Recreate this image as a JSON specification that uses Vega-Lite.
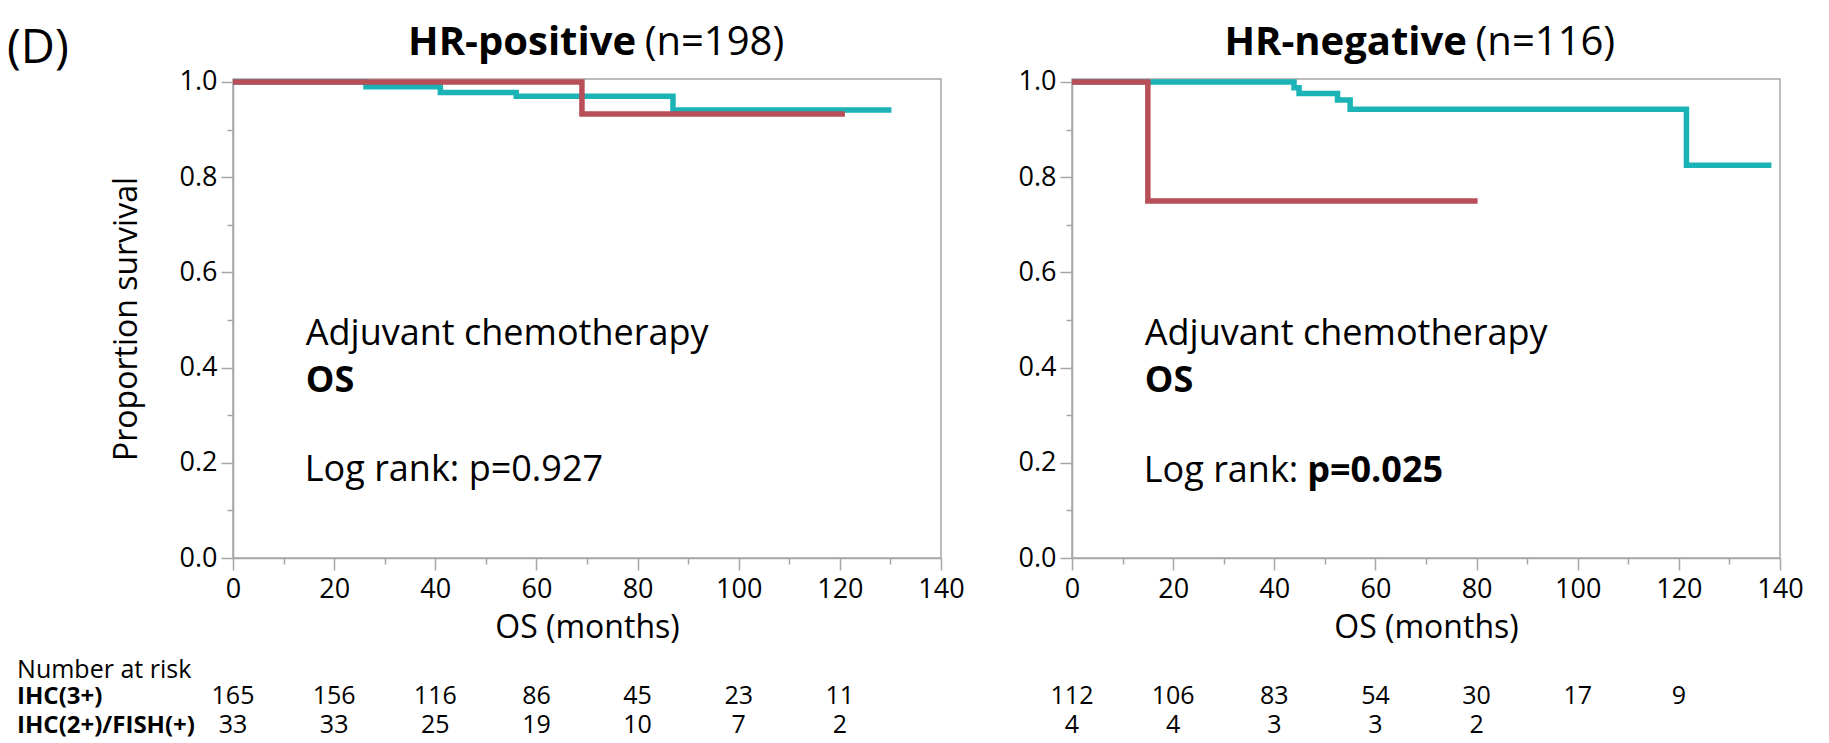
{
  "$schema": "https://vega.github.io/schema/vega-lite/v6.json",
  "padding": {"left": 6, "top": 22, "right": 5, "bottom": 0},
  "background": "white",
  "config": {
    "font": "Open Sans",
    "view": {"stroke": "#a6a6a6", "strokeWidth": 1.5},
    "axis": {
      "domainColor": "#a6a6a6", "domainWidth": 1.5,
      "tickColor": "#a6a6a6", "tickWidth": 1.5,
      "grid": false,
      "labelFont": "Open Sans", "labelFontSize": 27, "labelColor": "#000",
      "titleFont": "Open Sans", "titleFontSize": 32, "titleFontWeight": "normal", "titleColor": "#000"
    },
    "text": {"font": "Open Sans", "color": "#000"}
  },
  "datasets": {
    "one": [{}],
    "curves": [
      {"panel": "HR-positive", "group": "IHC(3+)", "month": 0, "surv": 1.0},
      {"panel": "HR-positive", "group": "IHC(3+)", "month": 26.3, "surv": 0.99},
      {"panel": "HR-positive", "group": "IHC(3+)", "month": 41, "surv": 0.978},
      {"panel": "HR-positive", "group": "IHC(3+)", "month": 56, "surv": 0.97},
      {"panel": "HR-positive", "group": "IHC(3+)", "month": 87, "surv": 0.941},
      {"panel": "HR-positive", "group": "IHC(3+)", "month": 130.2, "surv": 0.941},
      {"panel": "HR-positive", "group": "IHC(2+)/FISH(+)", "month": 0, "surv": 1.0},
      {"panel": "HR-positive", "group": "IHC(2+)/FISH(+)", "month": 69, "surv": 0.933},
      {"panel": "HR-positive", "group": "IHC(2+)/FISH(+)", "month": 121, "surv": 0.933},
      {"panel": "HR-negative", "group": "IHC(3+)", "month": 0, "surv": 1.0},
      {"panel": "HR-negative", "group": "IHC(3+)", "month": 43.9, "surv": 0.988},
      {"panel": "HR-negative", "group": "IHC(3+)", "month": 44.9, "surv": 0.976},
      {"panel": "HR-negative", "group": "IHC(3+)", "month": 52.5, "surv": 0.962},
      {"panel": "HR-negative", "group": "IHC(3+)", "month": 55, "surv": 0.943},
      {"panel": "HR-negative", "group": "IHC(3+)", "month": 121.5, "surv": 0.825},
      {"panel": "HR-negative", "group": "IHC(3+)", "month": 138.3, "surv": 0.825},
      {"panel": "HR-negative", "group": "IHC(2+)/FISH(+)", "month": 0, "surv": 1.0},
      {"panel": "HR-negative", "group": "IHC(2+)/FISH(+)", "month": 15, "surv": 0.75},
      {"panel": "HR-negative", "group": "IHC(2+)/FISH(+)", "month": 80.2, "surv": 0.75}
    ],
    "risk": [
      {"panel": "HR-positive", "group": "IHC(3+)", "month": 0, "n": 165},
      {"panel": "HR-positive", "group": "IHC(3+)", "month": 20, "n": 156},
      {"panel": "HR-positive", "group": "IHC(3+)", "month": 40, "n": 116},
      {"panel": "HR-positive", "group": "IHC(3+)", "month": 60, "n": 86},
      {"panel": "HR-positive", "group": "IHC(3+)", "month": 80, "n": 45},
      {"panel": "HR-positive", "group": "IHC(3+)", "month": 100, "n": 23},
      {"panel": "HR-positive", "group": "IHC(3+)", "month": 120, "n": 11},
      {"panel": "HR-positive", "group": "IHC(2+)/FISH(+)", "month": 0, "n": 33},
      {"panel": "HR-positive", "group": "IHC(2+)/FISH(+)", "month": 20, "n": 33},
      {"panel": "HR-positive", "group": "IHC(2+)/FISH(+)", "month": 40, "n": 25},
      {"panel": "HR-positive", "group": "IHC(2+)/FISH(+)", "month": 60, "n": 19},
      {"panel": "HR-positive", "group": "IHC(2+)/FISH(+)", "month": 80, "n": 10},
      {"panel": "HR-positive", "group": "IHC(2+)/FISH(+)", "month": 100, "n": 7},
      {"panel": "HR-positive", "group": "IHC(2+)/FISH(+)", "month": 120, "n": 2},
      {"panel": "HR-negative", "group": "IHC(3+)", "month": 0, "n": 112},
      {"panel": "HR-negative", "group": "IHC(3+)", "month": 20, "n": 106},
      {"panel": "HR-negative", "group": "IHC(3+)", "month": 40, "n": 83},
      {"panel": "HR-negative", "group": "IHC(3+)", "month": 60, "n": 54},
      {"panel": "HR-negative", "group": "IHC(3+)", "month": 80, "n": 30},
      {"panel": "HR-negative", "group": "IHC(3+)", "month": 100, "n": 17},
      {"panel": "HR-negative", "group": "IHC(3+)", "month": 120, "n": 9},
      {"panel": "HR-negative", "group": "IHC(2+)/FISH(+)", "month": 0, "n": 4},
      {"panel": "HR-negative", "group": "IHC(2+)/FISH(+)", "month": 20, "n": 4},
      {"panel": "HR-negative", "group": "IHC(2+)/FISH(+)", "month": 40, "n": 3},
      {"panel": "HR-negative", "group": "IHC(2+)/FISH(+)", "month": 60, "n": 3},
      {"panel": "HR-negative", "group": "IHC(2+)/FISH(+)", "month": 80, "n": 2}
    ]
  },
  "spacing": 52,
  "hconcat": [
    {
      "width": 708,
      "height": 479,
      "layer": [
        {
          "data": {"name": "curves"},
          "transform": [{"filter": "datum.panel === 'HR-positive' && datum.group === 'IHC(3+)'"}],
          "mark": {"type": "line", "interpolate": "step-after", "color": "#1bb3b5", "strokeWidth": 5.5},
          "encoding": {
            "x": {"field": "month", "type": "quantitative", "scale": {"domain": [0, 140], "nice": false},
              "axis": {"title": "OS (months)", "values": [0,10,20,30,40,50,60,70,80,90,100,110,120,130,140],
                "labelExpr": "datum.value % 20 === 0 ? datum.label : ''", "labelOverlap": false, "labelFlush": false,
                "tickSize": {"condition": {"test": "datum.value % 20 === 0", "value": 12}, "value": 6},
                "labelPadding": 6, "titlePadding": 10}},
            "y": {"field": "surv", "type": "quantitative", "scale": {"domain": [0, 1.0063], "nice": false},
              "axis": {"title": "Proportion survival", "values": [0,0.1,0.2,0.3,0.4,0.5,0.6,0.7,0.8,0.9,1.0], "format": ".1f",
                "labelExpr": "round(datum.value * 10) % 2 === 0 ? datum.label : ''", "labelOverlap": false, "labelFlush": false,
                "tickSize": {"condition": {"test": "round(datum.value * 10) % 2 === 0", "value": 12}, "value": 6},
                "labelPadding": 4, "titlePadding": 36}}
          }
        },
        {
          "data": {"name": "curves"},
          "transform": [{"filter": "datum.panel === 'HR-positive' && datum.group === 'IHC(2+)/FISH(+)'"}],
          "mark": {"type": "line", "interpolate": "step-after", "color": "#b84e57", "strokeWidth": 5.5},
          "encoding": {
            "x": {"field": "month", "type": "quantitative"},
            "y": {"field": "surv", "type": "quantitative"}
          }
        },
        {
          "data": {"name": "one"},
          "mark": {"type": "text", "align": "left", "baseline": "alphabetic", "fontSize": 47, "text": "(D)"},
          "encoding": {"x": {"datum": -44.7}, "y": {"datum": 1.04}}
        },
        {
          "data": {"name": "one"},
          "mark": {"type": "text", "align": "right", "baseline": "alphabetic", "fontSize": 40, "fontWeight": "bold", "text": "HR-positive"},
          "encoding": {"x": {"datum": 79.7}, "y": {"datum": 1.057}}
        },
        {
          "data": {"name": "one"},
          "mark": {"type": "text", "align": "left", "baseline": "alphabetic", "fontSize": 40, "text": "(n=198)"},
          "encoding": {"x": {"datum": 81.4}, "y": {"datum": 1.057}}
        },
        {
          "data": {"name": "one"},
          "mark": {"type": "text", "align": "left", "baseline": "alphabetic", "fontSize": 36, "text": "Adjuvant chemotherapy"},
          "encoding": {"x": {"datum": 14.4}, "y": {"datum": 0.447}}
        },
        {
          "data": {"name": "one"},
          "mark": {"type": "text", "align": "left", "baseline": "alphabetic", "fontSize": 36, "fontWeight": "bold", "text": "OS"},
          "encoding": {"x": {"datum": 14.4}, "y": {"datum": 0.349}}
        },
        {
          "data": {"name": "one"},
          "mark": {"type": "text", "align": "left", "baseline": "alphabetic", "fontSize": 36, "text": "Log rank: p=0.927"},
          "encoding": {"x": {"datum": 14.2}, "y": {"datum": 0.162}}
        },
        {
          "data": {"name": "one"},
          "mark": {"type": "text", "align": "left", "baseline": "alphabetic", "fontSize": 25, "text": "Number at risk"},
          "encoding": {"x": {"datum": -42.7}, "y": {"datum": -0.252}}
        },
        {
          "data": {"name": "one"},
          "mark": {"type": "text", "align": "left", "baseline": "alphabetic", "fontSize": 24, "fontWeight": "bold", "text": "IHC(3+)"},
          "encoding": {"x": {"datum": -42.7}, "y": {"datum": -0.307}}
        },
        {
          "data": {"name": "one"},
          "mark": {"type": "text", "align": "left", "baseline": "alphabetic", "fontSize": 24, "fontWeight": "bold", "text": "IHC(2+)/FISH(+)"},
          "encoding": {"x": {"datum": -42.7}, "y": {"datum": -0.368}}
        },
        {
          "data": {"name": "risk"},
          "transform": [{"filter": "datum.panel === 'HR-positive' && datum.group === 'IHC(3+)'"}],
          "mark": {"type": "text", "baseline": "alphabetic", "fontSize": 25},
          "encoding": {"x": {"field": "month", "type": "quantitative"}, "y": {"datum": -0.307}, "text": {"field": "n"}}
        },
        {
          "data": {"name": "risk"},
          "transform": [{"filter": "datum.panel === 'HR-positive' && datum.group === 'IHC(2+)/FISH(+)'"}],
          "mark": {"type": "text", "baseline": "alphabetic", "fontSize": 25},
          "encoding": {"x": {"field": "month", "type": "quantitative"}, "y": {"datum": -0.368}, "text": {"field": "n"}}
        }
      ]
    },
    {
      "width": 708,
      "height": 479,
      "layer": [
        {
          "data": {"name": "curves"},
          "transform": [{"filter": "datum.panel === 'HR-negative' && datum.group === 'IHC(3+)'"}],
          "mark": {"type": "line", "interpolate": "step-after", "color": "#1bb3b5", "strokeWidth": 5.5},
          "encoding": {
            "x": {"field": "month", "type": "quantitative", "scale": {"domain": [0, 140], "nice": false},
              "axis": {"title": "OS (months)", "values": [0,10,20,30,40,50,60,70,80,90,100,110,120,130,140],
                "labelExpr": "datum.value % 20 === 0 ? datum.label : ''", "labelOverlap": false, "labelFlush": false,
                "tickSize": {"condition": {"test": "datum.value % 20 === 0", "value": 12}, "value": 6},
                "labelPadding": 6, "titlePadding": 10}},
            "y": {"field": "surv", "type": "quantitative", "scale": {"domain": [0, 1.0063], "nice": false},
              "axis": {"title": null, "values": [0,0.1,0.2,0.3,0.4,0.5,0.6,0.7,0.8,0.9,1.0], "format": ".1f",
                "labelExpr": "round(datum.value * 10) % 2 === 0 ? datum.label : ''", "labelOverlap": false, "labelFlush": false,
                "tickSize": {"condition": {"test": "round(datum.value * 10) % 2 === 0", "value": 12}, "value": 6},
                "labelPadding": 4}}
          }
        },
        {
          "data": {"name": "curves"},
          "transform": [{"filter": "datum.panel === 'HR-negative' && datum.group === 'IHC(2+)/FISH(+)'"}],
          "mark": {"type": "line", "interpolate": "step-after", "color": "#b84e57", "strokeWidth": 5.5},
          "encoding": {
            "x": {"field": "month", "type": "quantitative"},
            "y": {"field": "surv", "type": "quantitative"}
          }
        },
        {
          "data": {"name": "one"},
          "mark": {"type": "text", "align": "right", "baseline": "alphabetic", "fontSize": 40, "fontWeight": "bold", "text": "HR-negative"},
          "encoding": {"x": {"datum": 78.1}, "y": {"datum": 1.057}}
        },
        {
          "data": {"name": "one"},
          "mark": {"type": "text", "align": "left", "baseline": "alphabetic", "fontSize": 40, "text": "(n=116)"},
          "encoding": {"x": {"datum": 79.8}, "y": {"datum": 1.057}}
        },
        {
          "data": {"name": "one"},
          "mark": {"type": "text", "align": "left", "baseline": "alphabetic", "fontSize": 36, "text": "Adjuvant chemotherapy"},
          "encoding": {"x": {"datum": 14.4}, "y": {"datum": 0.447}}
        },
        {
          "data": {"name": "one"},
          "mark": {"type": "text", "align": "left", "baseline": "alphabetic", "fontSize": 36, "fontWeight": "bold", "text": "OS"},
          "encoding": {"x": {"datum": 14.4}, "y": {"datum": 0.349}}
        },
        {
          "data": {"name": "one"},
          "mark": {"type": "text", "align": "left", "baseline": "alphabetic", "fontSize": 36, "text": "Log rank:"},
          "encoding": {"x": {"datum": 14.2}, "y": {"datum": 0.16}}
        },
        {
          "data": {"name": "one"},
          "mark": {"type": "text", "align": "left", "baseline": "alphabetic", "fontSize": 36, "fontWeight": "bold", "text": "p=0.025"},
          "encoding": {"x": {"datum": 46.5}, "y": {"datum": 0.16}}
        },
        {
          "data": {"name": "risk"},
          "transform": [{"filter": "datum.panel === 'HR-negative' && datum.group === 'IHC(3+)'"}],
          "mark": {"type": "text", "baseline": "alphabetic", "fontSize": 25},
          "encoding": {"x": {"field": "month", "type": "quantitative"}, "y": {"datum": -0.307}, "text": {"field": "n"}}
        },
        {
          "data": {"name": "risk"},
          "transform": [{"filter": "datum.panel === 'HR-negative' && datum.group === 'IHC(2+)/FISH(+)'"}],
          "mark": {"type": "text", "baseline": "alphabetic", "fontSize": 25},
          "encoding": {"x": {"field": "month", "type": "quantitative"}, "y": {"datum": -0.368}, "text": {"field": "n"}}
        }
      ]
    }
  ]
}
